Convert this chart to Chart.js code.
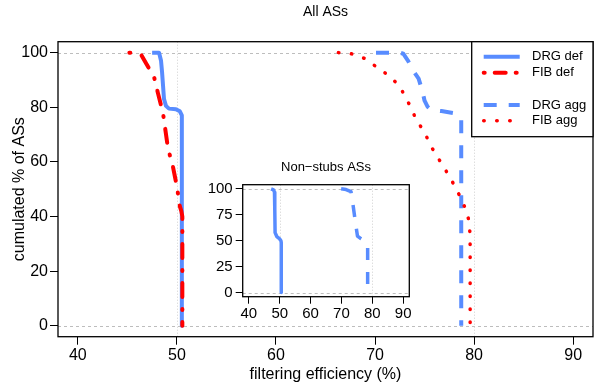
<!DOCTYPE html>
<html>
<head>
<meta charset="utf-8">
<script src="https://cdn.jsdelivr.net/npm/chart.js@4.4.0/dist/chart.umd.min.js"></script>
<style>
  body { margin: 0; background: #fff; }
  #wrap { position: relative; width: 595px; height: 388px; }
  #main { position: absolute; left: 0; top: 0; }
  #inset { position: absolute; left: 190px; top: 150px; }
</style>
</head>
<body>
<div id="wrap">
  <canvas id="main" width="595" height="388"></canvas>
  <canvas id="inset" width="230" height="180"></canvas>
</div>
<script>
// tick labels
const xTicks = [40, 50, 60, 70, 80, 90];
const yTicks = [0, 20, 40, 60, 80, 100];
const insetYTicks = [0, 25, 50, 75, 100];

// reference lines
const xRefLines = [50, 80];
const yRefLines = [0, 100];

// All ASs - curves
const drgDefX = [47.5, 48.2, 48.4, 48.5, 48.6, 48.7, 48.9, 49.2, 49.9, 50.3, 50.5, 50.5];
const drgDefY = [100, 100, 97, 93, 88, 83, 80.5, 79.5, 79.3, 78.5, 77, 0];

const fibDefX = [45.2, 45.6, 46.0, 46.4, 46.9, 47.3, 47.7, 48.1, 48.6, 49.1, 49.6, 50.0, 50.3, 50.45, 50.55, 50.55];
const fibDefY = [100, 100, 99.8, 99.2, 96, 93.5, 91, 85, 77.8, 65, 58.3, 51, 43.7, 42, 40, 0];

const drgAggX = [70.1, 71.5, 72.5, 72.85, 73.3, 74.0, 74.4, 74.8, 75.0, 75.3, 75.7, 76.7, 78.05, 78.5, 78.7, 78.7];
const drgAggY = [100, 100, 100, 99.6, 97.2, 92.6, 90.5, 85.6, 82.4, 80.2, 79.0, 78.6, 77.8, 76.8, 75.6, 0];

const fibAggX = [66.3, 67.6, 69.0, 69.9, 70.9, 71.8, 72.6, 73.1, 73.7, 74.1, 74.75, 75.3, 75.8, 76.4, 77.0, 77.6, 78.15, 78.6, 79.1, 79.45, 79.57, 79.6, 79.6];
const fibAggY = [100, 99.6, 97.8, 95.4, 92.9, 90.3, 87.0, 83.3, 79.6, 75.7, 72.2, 68.5, 64.8, 61.2, 57.7, 54.1, 50.4, 47.2, 43.1, 38.9, 34.4, 29.5, 0];

// Non-stubs ASs (inset)
const nsDrgDefX = [47.2, 48.0, 48.3, 48.4, 48.5, 49.05, 49.9, 50.4, 50.5, 50.5];
const nsDrgDefY = [100, 99, 96.8, 80, 57.8, 54, 52, 50, 48, 0];

const nsDrgAggX = [69.9, 71.5, 73.1, 73.8, 74.7, 75.2, 76.3, 78.0, 78.5, 78.5];
const nsDrgAggY = [100, 99.3, 97.4, 83.7, 64.3, 54.5, 52, 49, 44, 0];

const legendLabels = ['DRG def', 'FIB def', 'DRG agg', 'FIB agg'];

const FONT = 'Liberation Sans, Arial, Helvetica, sans-serif';
const BLUE = 'rgb(88, 140, 255)';
const RED = 'rgb(255, 0, 0)';

const styles = {
  drgDef: { color: BLUE, width: 4, dash: [], cap: 'butt' },
  fibDef: { color: RED, width: 4, dash: [1, 12, 14, 12], cap: 'round' },
  drgAgg: { color: BLUE, width: 4, dash: [13, 12], cap: 'butt' },
  fibAgg: { color: RED, width: 3.5, dash: [0.5, 12.5], cap: 'round' }
};

function series(label, xs, ys, st, order, width, dash) {
  return {
    label: label,
    data: xs.map((x, i) => ({ x: x, y: ys[i] })),
    borderColor: st.color,
    borderWidth: width || st.width,
    borderDash: dash || st.dash,
    borderCapStyle: st.cap,
    borderJoinStyle: 'round',
    pointRadius: 0,
    fill: false,
    tension: 0,
    order: order
  };
}

function scaleX(ticks, height, size, tickLen, pad, title) {
  return {
    type: 'linear', min: 38, max: 92,
    afterBuildTicks: s => { s.ticks = ticks.map(v => ({ value: v })); },
    afterFit: s => { s.height = height; },
    grid: { drawOnChartArea: false, drawTicks: true, tickLength: tickLen, color: '#000', lineWidth: 1 },
    border: { display: false },
    ticks: { font: { family: FONT, size: size }, color: '#000', padding: pad, maxRotation: 0, autoSkip: false },
    title: title || { display: false }
  };
}

function scaleY(ticks, width, size, tickLen, pad, title) {
  return {
    type: 'linear', min: -4, max: 104,
    afterBuildTicks: s => { s.ticks = ticks.map(v => ({ value: v })); },
    afterFit: s => { s.width = width; },
    grid: { drawOnChartArea: false, drawTicks: true, tickLength: tickLen, color: '#000', lineWidth: 1 },
    border: { display: false },
    ticks: { font: { family: FONT, size: size }, color: '#000', padding: pad, autoSkip: false },
    title: title || { display: false }
  };
}

// draws reference lines under the data, box + title on top
function framePlugin(titleText, titleSize, titleGap, refW) {
  return {
    id: 'frame',
    beforeDatasetsDraw(chart) {
      const { ctx, chartArea: a, scales } = chart;
      ctx.save();
      ctx.lineWidth = refW;
      ctx.strokeStyle = '#bdbdbd';
      ctx.setLineDash([3, 3]);
      yRefLines.forEach(v => {
        const y = Math.round(scales.y.getPixelForValue(v)) + 0.5;
        ctx.beginPath(); ctx.moveTo(a.left, y); ctx.lineTo(a.right, y); ctx.stroke();
      });
      ctx.strokeStyle = '#cfcfcf';
      ctx.setLineDash([1, 2]);
      xRefLines.forEach(v => {
        const x = Math.round(scales.x.getPixelForValue(v)) + 0.5;
        ctx.beginPath(); ctx.moveTo(x, a.top); ctx.lineTo(x, a.bottom); ctx.stroke();
      });
      ctx.restore();
    },
    afterDatasetsDraw(chart) {
      const { ctx, chartArea: a } = chart;
      ctx.save();
      ctx.strokeStyle = '#000';
      ctx.lineWidth = 1.3;
      ctx.strokeRect(a.left, a.top, a.right - a.left, a.bottom - a.top);
      ctx.fillStyle = '#000';
      ctx.font = titleSize + 'px ' + FONT;
      ctx.textAlign = 'center';
      ctx.textBaseline = 'middle';
      ctx.fillText(titleText, (a.left + a.right) / 2, a.top - titleGap);
      ctx.restore();
    }
  };
}

const legendPlugin = {
  id: 'boxLegend',
  afterDraw(chart) {
    const { ctx, chartArea: a } = chart;
    const left = a.right - 121.3, top = a.top;
    const rows = [15, 31, 63.3, 79];
    const st = [styles.drgDef, styles.fibDef, styles.drgAgg, styles.fibAgg];
    ctx.save();
    ctx.fillStyle = '#fff';
    ctx.fillRect(left, top, a.right - left, 95);
    ctx.strokeStyle = '#000';
    ctx.lineWidth = 1.3;
    ctx.strokeRect(left, top, a.right - left, 95);
    legendLabels.forEach((lab, i) => {
      const y = top + rows[i];
      ctx.strokeStyle = st[i].color;
      ctx.lineWidth = st[i].width;
      ctx.lineCap = st[i].cap;
      ctx.setLineDash(i === 1 ? [1, 10, 11, 10] : st[i].dash);
      ctx.beginPath(); ctx.moveTo(left + 12, y); ctx.lineTo(left + 48, y); ctx.stroke();
      ctx.setLineDash([]);
      ctx.fillStyle = '#000';
      ctx.font = '13px ' + FONT;
      ctx.textAlign = 'left';
      ctx.textBaseline = 'middle';
      ctx.fillText(lab, left + 60.3, y);
    });
    ctx.restore();
  }
};

new Chart(document.getElementById('main'), {
  type: 'line',
  data: {
    datasets: [
      series(legendLabels[0], drgDefX, drgDefY, styles.drgDef, 2),
      series(legendLabels[1], fibDefX, fibDefY, styles.fibDef, 1),
      series(legendLabels[2], drgAggX, drgAggY, styles.drgAgg, 4),
      series(legendLabels[3], fibAggX, fibAggY, styles.fibAgg, 3)
    ]
  },
  options: {
    responsive: false,
    animation: false,
    layout: { padding: { top: 41.7, right: 2, left: 0, bottom: 0 } },
    plugins: { legend: { display: false }, tooltip: { enabled: false } },
    scales: {
      x: scaleX(xTicks, 51.3, 16, 8, 1, {
        display: true, text: 'filtering efficiency (%)', color: '#000',
        font: { family: FONT, size: 16 }, padding: { top: 0, bottom: 3.5 }
      }),
      y: scaleY(yTicks, 58, 16, 8, 2, {
        display: true, text: 'cumulated % of ASs', color: '#000',
        font: { family: FONT, size: 16 }, padding: { top: 9.5, bottom: 0 }
      })
    }
  },
  plugins: [framePlugin('All ASs', 14, 29.5, 1), legendPlugin]
});

new Chart(document.getElementById('inset'), {
  type: 'line',
  data: {
    datasets: [
      series(legendLabels[0], nsDrgDefX, nsDrgDefY, styles.drgDef, 1, 3.5),
      series(legendLabels[2], nsDrgAggX, nsDrgAggY, styles.drgAgg, 2, 3.5, [12, 12])
    ]
  },
  options: {
    responsive: false,
    animation: false,
    layout: { padding: { top: 34.7, right: 10.7, left: 0, bottom: 0 } },
    plugins: { legend: { display: false }, tooltip: { enabled: false } },
    scales: {
      x: scaleX(xTicks, 33.3, 15, 7, 1),
      y: scaleY(insetYTicks, 52.7, 15, 7, 3)
    }
  },
  plugins: [framePlugin('Non\u2212stubs ASs', 13, 17.5, 1)]
});
</script>
</body>
</html>
